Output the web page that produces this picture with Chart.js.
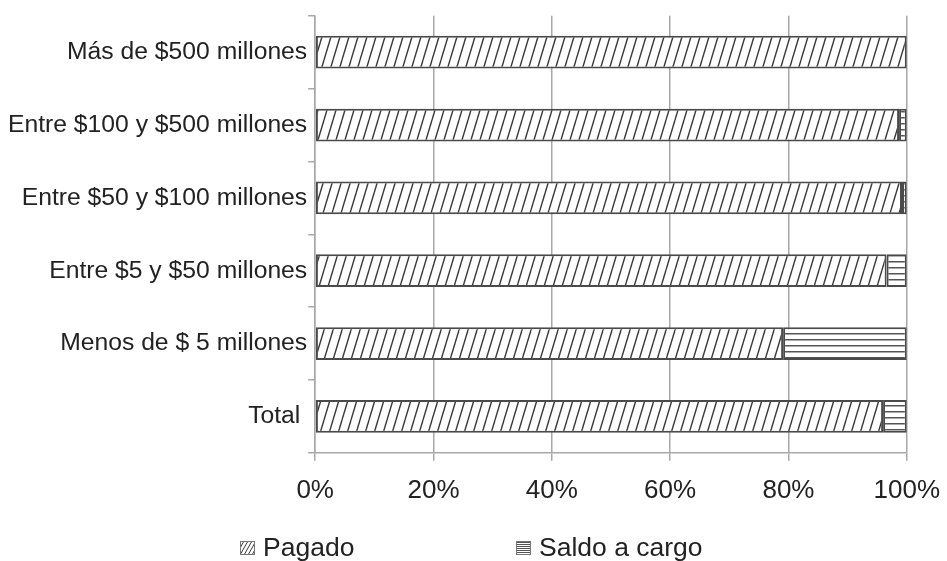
<!DOCTYPE html>
<html>
<head>
<meta charset="utf-8">
<script src="https://cdn.jsdelivr.net/npm/chart.js@4"></script>
<style>
  html,body{margin:0;padding:0;background:#fff;}
  #wrap{position:relative;width:947px;height:561px;overflow:hidden;}
  #leyenda{position:absolute;left:0;top:534px;width:947px;height:27px;font:26.5px 'Liberation Sans',Arial,sans-serif;color:#222;}
  .item{position:absolute;top:0;display:flex;align-items:center;line-height:27px;white-space:nowrap;}
  .item canvas{margin-right:8px;}
</style>
</head>
<body>
<div id="wrap">
  <canvas id="ch"></canvas>
  <div id="leyenda"></div>
</div>
<script>
// datos
const categorias = ['Más de $500 millones','Entre $100 y $500 millones','Entre $50 y $100 millones','Entre $5 y $50 millones','Menos de $ 5 millones','Total '];
const pagado = [100, 98.7, 99.2, 96.6, 79.1, 96.0];
const saldo  = [0, 1.3, 0.8, 3.4, 20.9, 4.0];
const ticksX = [0, 20, 40, 60, 80, 100];
const series = ['Pagado', 'Saldo a cargo'];

const FONT = "'Liberation Sans', Arial, sans-serif";
const INK = '#4a4a4a';
const GRID = '#a8a8a8';

// tramas
function hatch(w, h, lw){
  const c = document.createElement('canvas');
  c.width = w; c.height = h;
  const g = c.getContext('2d');
  g.fillStyle = '#fff'; g.fillRect(0,0,w,h);
  g.strokeStyle = '#3a3a3a'; g.lineWidth = lw;
  [-w,0,w].forEach(o=>{ g.beginPath(); g.moveTo(o,h); g.lineTo(o+w,0); g.stroke(); });
  return c;
}
function stripes(h){
  const c = document.createElement('canvas');
  c.width = 8; c.height = h;
  const g = c.getContext('2d');
  g.fillStyle = '#fff'; g.fillRect(0,0,8,h);
  g.fillStyle = '#555'; g.fillRect(0,Math.floor(h/2),8,1.5);
  return c;
}
const ctx0 = document.createElement('canvas').getContext('2d');
const patPagado = ctx0.createPattern(hatch(9, 30, 1.4),'repeat');
const patSaldo = ctx0.createPattern(stripes(6),'repeat');

new Chart(document.getElementById('ch'), {
  type:'bar',
  data:{
    labels:categorias,
    datasets:[
      {label:series[0], data:pagado, backgroundColor:patPagado, borderColor:INK, borderWidth:2, borderSkipped:false,
       barPercentage:0.5, categoryPercentage:0.9},
      {label:series[1], data:saldo, backgroundColor:patSaldo, borderColor:INK, borderWidth:2, borderSkipped:false,
       barPercentage:0.5, categoryPercentage:0.9}
    ]
  },
  options:{
    indexAxis:'y',
    responsive:true, maintainAspectRatio:false, animation:false,
    layout:{padding:{top:6, right:0, bottom:41, left:7}},
    plugins:{
      tooltip:{enabled:false},
      legend:{display:false}
    },
    scales:{
      x:{
        stacked:true, min:0, max:100,
        afterBuildTicks:ax=>{ ax.ticks = ticksX.map(v=>({value:v})); },
        afterFit:s=>{ s.paddingRight -= 7; },
        ticks:{callback:v=>v+'%', color:'#222', padding:14, font:{family:FONT, size:26}, maxRotation:0},
        grid:{color:GRID, lineWidth:1.5, tickLength:8},
        border:{color:GRID, width:1.5}
      },
      y:{
        stacked:true,
        ticks:{color:'#222', padding:1, font:{family:FONT, size:24.7}},
        grid:{offset:true, drawOnChartArea:false, color:GRID, lineWidth:1.5, tickLength:7},
        border:{color:GRID, width:1.5}
      }
    }
  }
});

// leyenda
const ley = document.getElementById('leyenda');
const iconos = [
  ()=>{ const c=document.createElement('canvas'); c.width=15;c.height=14; const g=c.getContext('2d');
        g.fillStyle=g.createPattern(hatch(4,7,1),'repeat'); g.fillRect(0,0,15,14);
        g.strokeStyle='#777'; g.lineWidth=1; g.strokeRect(0.5,0.5,14,13); return c; },
  ()=>{ const c=document.createElement('canvas'); c.width=15;c.height=14; const g=c.getContext('2d');
        g.fillStyle=g.createPattern(stripes(2),'repeat'); g.fillRect(0,0,15,14);
        g.strokeStyle='#777'; g.lineWidth=1; g.strokeRect(0.5,0.5,14,13); return c; }
];
const posX = [240, 516];
series.forEach((s,i)=>{
  const d = document.createElement('div');
  d.className = 'item';
  d.style.left = posX[i]+'px';
  d.appendChild(iconos[i]());
  d.appendChild(document.createTextNode(s));
  ley.appendChild(d);
});
</script>
</body>
</html>
